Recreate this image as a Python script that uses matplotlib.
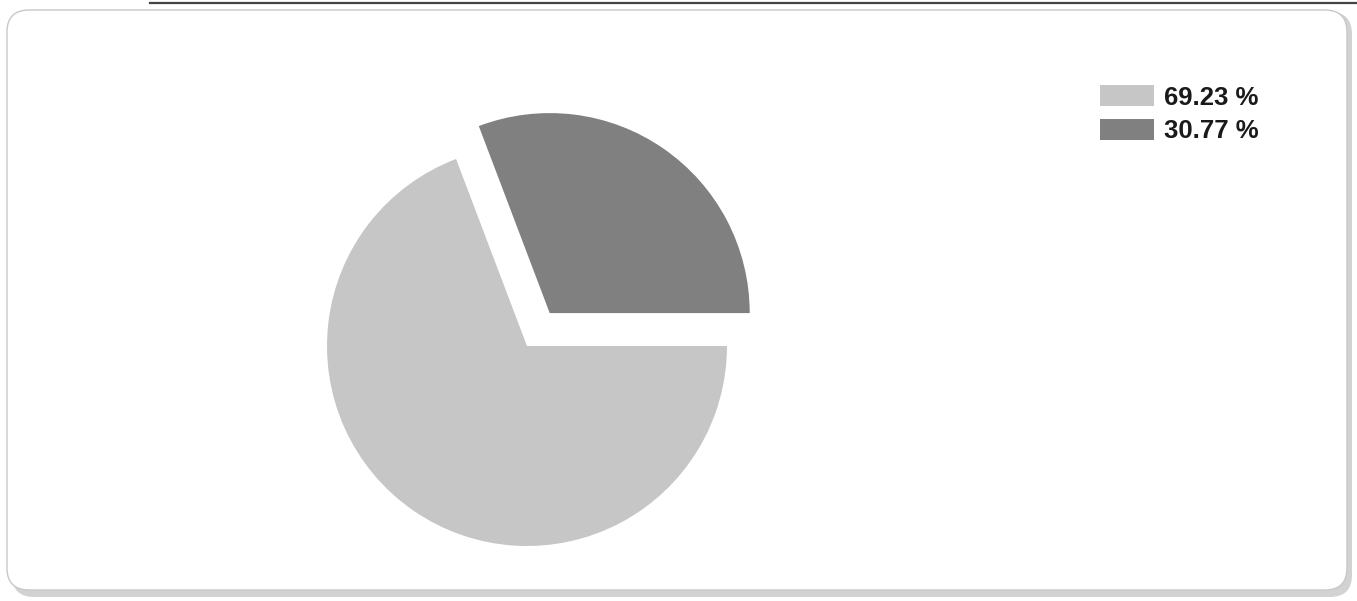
import matplotlib.pyplot as plt
from matplotlib.patches import FancyBboxPatch

# data
labels = ["69.23 %", "30.77 %"]
values = [69.23, 30.77]
colors = ["#c6c6c6", "#808080"]
explode = [0.0, 40.0]  # pie with explicit radius: offset in data units

W, H = 1357, 601

fig = plt.figure(figsize=(W / 100, H / 100), dpi=100)
fig.patch.set_facecolor("white")
ax = fig.add_axes([0, 0, 1, 1])

# frame with soft shadow
shadow = FancyBboxPatch((12, 4), 1340, 585, boxstyle="round,pad=0,rounding_size=22",
                        facecolor="#d2d2d2", edgecolor="none", zorder=0)
ax.add_patch(shadow)
frame = FancyBboxPatch((7, 11), 1340, 580, boxstyle="round,pad=0,rounding_size=22",
                       facecolor="white", edgecolor="#c8c8c8", linewidth=1.0, zorder=1)
ax.add_patch(frame)
ax.plot([150, W], [H - 3, H - 3], color="#444444", linewidth=1.6, zorder=2)

wedges, _ = ax.pie(values, colors=colors, explode=explode, startangle=110.77,
                   counterclock=True, center=(527, H - 346), radius=200,
                   wedgeprops=dict(linewidth=0, zorder=3), frame=True)
ax.set_xlim(0, W)
ax.set_ylim(0, H)
ax.set_aspect("equal")
ax.axis("off")

leg = ax.legend(wedges, labels, loc="upper left", bbox_to_anchor=(1082, H - 67),
                bbox_transform=ax.transData, frameon=False,
                prop=dict(family="Liberation Sans", weight="bold", size=18.5),
                handlelength=2.1, handleheight=0.9, handletextpad=0.4,
                labelspacing=0.35, borderpad=0.2)
for t in leg.get_texts():
    t.set_color("#1a1a1a")

fig.savefig("out.png", dpi=100)
